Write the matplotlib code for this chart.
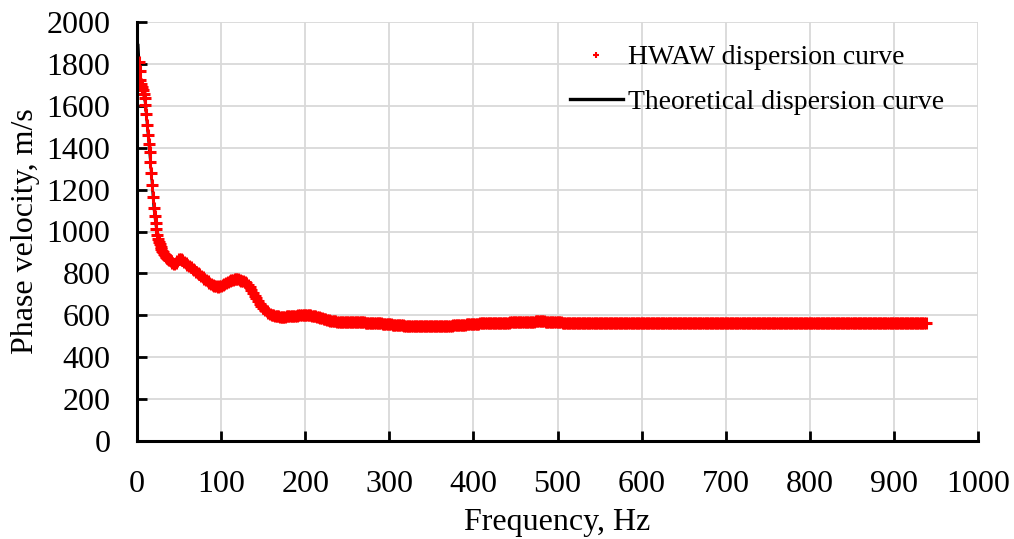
import numpy as np
import matplotlib
matplotlib.use("Agg")
import matplotlib.pyplot as plt
from matplotlib.lines import Line2D

# ---------------- data ----------------
# HWAW dispersion curve: steep low-frequency part, 1 Hz sampling
hwaw_freq_low = np.arange(2, 41)
hwaw_vel_low = [1810, 1765, 1722, 1705, 1690, 1675, 1658, 1638, 1605, 1560,
                1510, 1462, 1420, 1378, 1330, 1280, 1222, 1165, 1110, 1076,
                1042, 1010, 985, 964, 950, 938, 927, 917, 908, 901,
                894, 888, 883, 878, 874, 870, 866, 862, 858]

# 42 .. 240 Hz, 2 Hz sampling
hwaw_freq_mid = np.arange(42, 241, 2)
hwaw_vel_mid = [852, 846, 850, 861, 870, 870, 863, 856, 849, 842,
                836, 829, 822, 815, 808, 801, 795, 788, 782, 775,
                768, 762, 756, 750, 745, 741, 738, 737, 738, 740,
                744, 748, 753, 758, 763, 767, 770, 772, 772, 771,
                769, 766, 762, 758, 753, 745, 735, 722, 708, 694,
                681, 668, 656, 645, 635, 626, 619, 613, 607, 603,
                600, 598, 596, 595, 594, 594, 594, 594, 595, 595,
                596, 597, 597, 598, 599, 600, 600, 601, 601, 601,
                601, 601, 600, 599, 598, 596, 594, 592, 589, 587,
                584, 582, 579, 577, 575, 573, 572, 571, 570, 569]

# 242 .. 540 Hz, 2 Hz sampling
hwaw_freq_high = np.arange(242, 541, 2)
hwaw_vel_high = [569, 568, 568, 568, 568, 568, 567, 567, 567, 567,
                 567, 566, 566, 566, 566, 565, 565, 565, 564, 564,
                 563, 563, 562, 562, 561, 560, 560, 559, 558, 558,
                 557, 556, 556, 555, 554, 553, 553, 552, 551, 551,
                 550, 550, 549, 549, 548, 548, 548, 547, 547, 547,
                 547, 547, 547, 547, 547, 547, 548, 548, 548, 548,
                 549, 549, 550, 550, 550, 551, 551, 552, 553, 553,
                 554, 554, 555, 556, 556, 557, 557, 558, 558, 559,
                 559, 560, 560, 561, 561, 561, 562, 562, 562, 562,
                 563, 563, 563, 563, 563, 564, 564, 564, 565, 565,
                 565, 566, 566, 566, 567, 567, 567, 568, 568, 568,
                 569, 569, 569, 570, 570, 570, 571, 571, 571, 571,
                 571, 571, 570, 570, 569, 568, 568, 567, 567, 566,
                 566, 566, 565, 565, 565, 565, 564, 564, 564, 564,
                 564, 564, 564, 564, 564, 564, 564, 564, 564, 564]

# 542 .. 938 Hz, 2 Hz sampling (flat tail)
hwaw_freq_tail = np.arange(542, 939, 2)
hwaw_vel_tail = [564, 564, 564, 564, 564, 564, 564, 564, 564, 564, 564, 564, 564, 564, 564, 564, 564, 564, 564, 564,
                 564, 564, 564, 564, 564, 564, 564, 564, 564, 564, 564, 564, 564, 564, 564, 564, 564, 564, 564, 564,
                 564, 564, 564, 564, 564, 564, 564, 564, 564, 564, 564, 564, 564, 564, 564, 564, 564, 564, 564, 564,
                 564, 564, 564, 564, 564, 564, 564, 564, 564, 564, 564, 564, 564, 564, 564, 564, 564, 564, 564, 564,
                 564, 564, 564, 564, 564, 564, 564, 564, 564, 564, 564, 564, 564, 564, 564, 564, 564, 564, 564, 564,
                 564, 564, 564, 564, 564, 564, 564, 564, 564, 564, 564, 564, 564, 564, 564, 564, 564, 564, 564, 564,
                 564, 564, 564, 564, 564, 564, 564, 564, 564, 564, 564, 564, 564, 564, 564, 564, 564, 564, 564, 564,
                 564, 564, 564, 564, 564, 564, 564, 564, 564, 564, 564, 564, 564, 564, 564, 564, 564, 564, 564, 564,
                 564, 564, 564, 564, 564, 564, 564, 564, 564, 564, 564, 564, 564, 564, 564, 564, 564, 564, 564, 564,
                 564, 564, 564, 564, 564, 564, 564, 564, 564, 564, 564, 564, 564, 564, 564, 564, 564, 564, 564]

# Theoretical dispersion curve (key points)
theo_freq = [1.5, 3, 5, 8, 10, 12, 14, 16, 18, 20, 22, 24, 27, 30, 35, 40, 44,
             50, 60, 80, 95, 118, 130, 140, 150, 160, 170, 200, 215, 240, 280,
             340, 400, 480, 540, 938]
theo_vel = [1890, 1770, 1705, 1658, 1605, 1510, 1420, 1330, 1222, 1110, 1042,
            985, 938, 908, 878, 858, 846, 870, 842, 775, 737, 772, 753, 694,
            635, 603, 594, 601, 593, 569, 564, 547, 559, 571, 564, 564]

x_ticks = list(range(0, 1001, 100))
y_ticks = list(range(0, 2001, 200))

legend_labels = ["HWAW dispersion curve", "Theoretical dispersion curve"]
x_label = "Frequency, Hz"
y_label = "Phase velocity, m/s"

# ---------------- plotting ----------------
plt.rcParams['font.family'] = ['Liberation Serif', 'DejaVu Serif']

fig = plt.figure(figsize=(10.14, 5.39), dpi=100)
ax = fig.add_axes([137 / 1014, 98 / 539, 841 / 1014, 419 / 539])

hwaw_f = np.concatenate([hwaw_freq_low, hwaw_freq_mid, hwaw_freq_high, hwaw_freq_tail])
hwaw_v = np.concatenate([hwaw_vel_low, hwaw_vel_mid, hwaw_vel_high, hwaw_vel_tail])

ax.plot(theo_freq, theo_vel, color='black', lw=1.8, zorder=2)
ax.plot(hwaw_f, hwaw_v, ls='none', marker='+', ms=8.3, mew=2.2,
        color='#ff0000', zorder=3)

ax.set_xlim(0, 1000)
ax.set_ylim(0, 2000)
ax.set_xticks(x_ticks)
ax.set_yticks(y_ticks)
ax.grid(True, color='#d9d9d9', lw=1.3, zorder=0)
ax.set_axisbelow(True)

for s in ['top', 'right']:
    ax.spines[s].set_visible(False)
for s in ['left', 'bottom']:
    ax.spines[s].set_linewidth(2.2)
    ax.spines[s].set_color('black')
    ax.spines[s].set_zorder(4)

ax.tick_params(axis='both', direction='in', length=7, width=2,
               labelsize=23, colors='black')
ax.tick_params(axis='y', pad=19)
ax.tick_params(axis='x', pad=21)

ax.set_xlabel(x_label, fontsize=23)
ax.set_ylabel(y_label, fontsize=23)
ax.xaxis.set_label_coords(0.5, -0.16)
ax.yaxis.set_label_coords(-0.115, 0.5)

handles = [Line2D([], [], ls='none', marker='+', ms=5, mew=1.5, color='#ff0000'),
           Line2D([], [], color='black', lw=2.4)]
ax.legend(handles, legend_labels, loc='upper left',
          bbox_to_anchor=(570 / 1014, 1 - 45 / 539),
          bbox_transform=fig.transFigure, frameon=False, fontsize=20,
          handlelength=1.9, handletextpad=0.2, labelspacing=0.68,
          borderpad=0, borderaxespad=0)

fig.savefig("out.png", dpi=100)
